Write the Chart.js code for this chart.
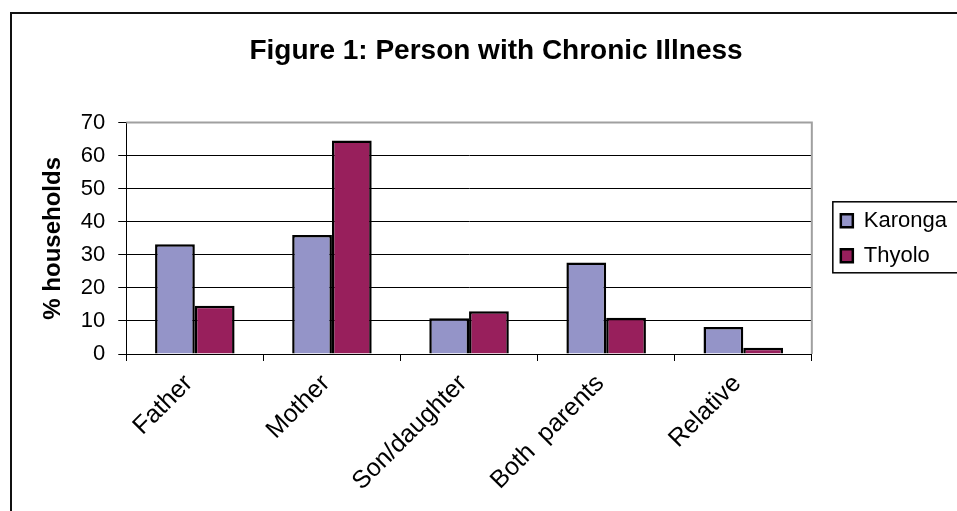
<!DOCTYPE html>
<html>
<head>
<meta charset="utf-8">
<script src="https://cdn.jsdelivr.net/npm/chart.js@4.4.1/dist/chart.umd.min.js"></script>
<style>
  html, body { margin: 0; padding: 0; background: #fff; }
  #wrap { position: relative; width: 957px; height: 511px; overflow: hidden; }
</style>
</head>
<body>
<div id="wrap"><canvas id="chart" width="957" height="511"></canvas></div>
<script>
const categories = ["Father", "Mother", "Son/daughter", "Both  parents", "Relative"];
const karonga = [33.2, 36, 10.8, 27.7, 8.2];
const thyolo = [14.6, 64.6, 12.9, 11, 1.9];
const seriesNames = ["Karonga", "Thyolo"];
const yMax = 70;
const yStep = 10;

const FONT = "'Liberation Sans', Arial, sans-serif";

// outer frame (top + left only, like the cropped source) and grey plot border
const framePlugin = {
  id: "frame",
  beforeDraw(chart) {
    const c = chart.ctx;
    c.save();
    c.strokeStyle = "#111";
    c.lineWidth = 2;
    c.beginPath();
    c.moveTo(11, 520);
    c.lineTo(11, 13);
    c.lineTo(970, 13);
    c.stroke();
    c.restore();
  },
  beforeDatasetsDraw(chart) {
    const a = chart.chartArea;
    const c = chart.ctx;
    c.save();
    c.strokeStyle = "#a0a0a0";
    c.lineWidth = 2;
    c.beginPath();
    c.moveTo(a.left, a.top);
    c.lineTo(a.right, a.top);
    c.lineTo(a.right, a.bottom);
    c.stroke();
    c.restore();
  },
  afterDraw(chart) {
    // box around the legend, running off the right edge
    const hb = chart.legend.legendHitBoxes;
    if (!hb || !hb.length) return;
    const first = hb[0], last = hb[hb.length - 1];
    const top = first.top + first.height / 2 - 19;
    const bottom = last.top + last.height / 2 + 17;
    const left = first.left - 8;
    const c = chart.ctx;
    c.save();
    c.strokeStyle = "#000";
    c.lineWidth = 1.5;
    c.strokeRect(left, top, 1000, bottom - top);
    c.restore();
  }
};

new Chart(document.getElementById("chart"), {
  type: "bar",
  data: {
    labels: categories,
    datasets: [
      {
        label: seriesNames[0],
        data: karonga,
        backgroundColor: "#9494c8",
        borderColor: "#000",
        borderWidth: 2.5
      },
      {
        label: seriesNames[1],
        data: thyolo,
        backgroundColor: "#981f5c",
        borderColor: "#000",
        borderWidth: 2.5
      }
    ]
  },
  options: {
    responsive: false,
    animation: false,
    categoryPercentage: 0.58,
    barPercentage: 1,
    layout: { padding: { left: 35, right: 0, top: 0, bottom: 0 } },
    plugins: {
      title: {
        display: true,
        text: "Figure 1: Person with Chronic Illness",
        color: "#000",
        font: { family: FONT, size: 28, weight: "bold" },
        padding: { top: 34, bottom: 55 }
      },
      legend: {
        position: "right",
        align: "center",
        fullSize: false,
        labels: {
          color: "#000",
          font: { family: FONT, size: 22 },
          boxWidth: 12,
          boxHeight: 13,
          padding: 13
        }
      },
      tooltip: { enabled: false }
    },
    scales: {
      x: {
        grid: {
          offset: true,
          drawOnChartArea: false,
          color: "#000",
          tickLength: 7
        },
        border: { color: "#000", width: 1 },
        ticks: {
          color: "#000",
          font: { family: FONT, size: 25 },
          minRotation: 45,
          maxRotation: 45,
          labelOffset: -6,
          padding: 8
        },
        afterFit: (s) => { s.height = 157; }
      },
      y: {
        min: 0,
        max: yMax,
        ticks: {
          stepSize: yStep,
          color: "#000",
          font: { family: FONT, size: 22 },
          padding: 13
        },
        grid: {
          color: (ctx) => (ctx.tick && ctx.tick.value === yMax ? "rgba(0,0,0,0)" : "#000"),
          tickColor: "#000",
          tickLength: 8,
          lineWidth: 1
        },
        border: { color: "#000", width: 1 },
        title: {
          display: true,
          text: "% households",
          color: "#000",
          font: { family: FONT, size: 24, weight: "bold" },
          padding: { top: 4, bottom: 0 }
        }
      },
      gap: {
        position: "right",
        display: true,
        ticks: { display: false },
        grid: { display: false, drawTicks: false },
        border: { display: false },
        afterFit: (s) => { s.width = 16; }
      }
    }
  },
  plugins: [framePlugin]
});
</script>
</body>
</html>
